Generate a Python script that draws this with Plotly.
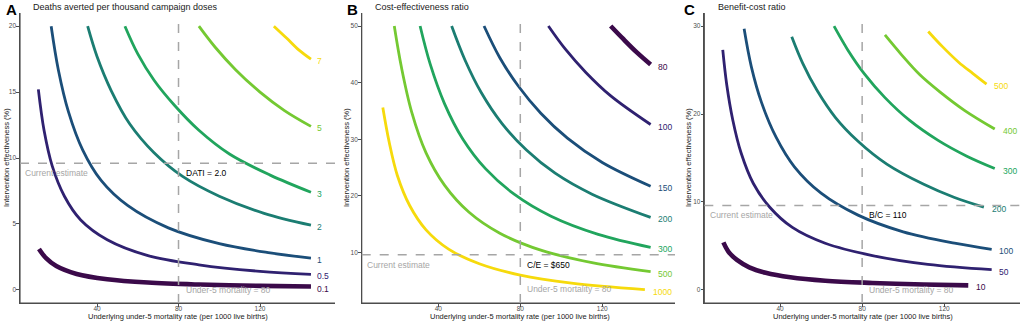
import plotly.graph_objects as go

# ---------------- data ----------------
x_ticks = [40, 80, 120]
current_u5mr = 80
current_eff = 9.6

# Panel A: deaths averted per thousand campaign doses
dati_labels = ["0.1", "0.5", "1", "2", "3", "5", "7"]
dati_x = [
    [11.5, 15, 20, 30, 45, 65, 90, 120, 145],
    [11.2, 14, 18, 24, 32, 45, 65, 90, 120, 145],
    [17.5, 21, 26, 33, 42, 55, 75, 100, 125, 145],
    [35.4, 40, 47, 56, 68, 82, 100, 122, 145],
    [53.7, 60, 68, 78, 90, 105, 125, 145],
    [90, 98, 108, 120, 132, 145],
    [126.8, 133, 139, 145],
]
dati_y = [
    [3.1, 2.4, 1.8, 1.2, 0.8, 0.55, 0.4, 0.3, 0.25],
    [15.2, 12.1, 9.4, 7.1, 5.3, 3.8, 2.6, 1.9, 1.4, 1.17],
    [20, 16.7, 13.5, 10.6, 8.3, 6.4, 4.7, 3.5, 2.8, 2.4],
    [20, 17.7, 15.1, 12.6, 10.4, 8.6, 7.1, 5.8, 4.9],
    [20, 17.9, 15.9, 14.0, 12.1, 10.3, 8.7, 7.4],
    [20, 18.4, 16.7, 15.0, 13.6, 12.4],
    [20, 19.1, 18.2, 17.5],
]

# Panel B: cost-effectiveness ratio
ce_labels = ["80", "100", "150", "200", "300", "500", "1000"]
ce_x = [
    [124.1, 130, 137, 143.6],
    [93.7, 102, 112, 124, 143.6],
    [62.3, 70, 79, 90, 103, 120, 143.6],
    [46.5, 53, 61, 71, 83, 97, 115, 143.6],
    [31.1, 36, 43, 52, 63, 77, 95, 118, 143.6],
    [18.5, 22, 27, 34, 43, 55, 70, 90, 115, 143.6],
    [12.9, 16, 20, 26, 34, 45, 60, 80, 105, 140.8],
]
ce_y = [
    [50, 47.8, 45.3, 43.2],
    [50, 45.9, 41.8, 37.7, 32.6],
    [50, 44.4, 39.4, 34.6, 30.2, 25.9, 21.7],
    [50, 44.0, 38.2, 32.8, 28.1, 24.0, 20.3, 16.2],
    [50, 43.3, 36.3, 30.0, 24.8, 20.3, 16.4, 13.2, 10.9],
    [50, 42.7, 34.8, 27.6, 21.9, 17.1, 13.4, 10.4, 8.2, 6.6],
    [35.6, 29.5, 23.6, 18.3, 14.0, 10.6, 8.0, 6.0, 4.6, 3.45],
]

# Panel C: benefit-cost ratio
bc_labels = ["10", "50", "100", "200", "300", "400", "500"]
bc_x = [
    [12.4, 15, 19, 25, 33, 45, 62, 85, 110, 131.7],
    [12.1, 14, 17, 21, 27, 35, 46, 62, 85, 112, 143.1],
    [22.5, 26, 31, 38, 47, 60, 78, 100, 125, 143.1],
    [45.7, 51, 58, 67, 78, 92, 110, 125, 139.3],
    [66.3, 73, 81, 91, 103, 117, 131, 144.6],
    [91.1, 99, 108, 118, 130, 144.6],
    [112.2, 119, 127, 134, 140.6],
]
bc_y = [
    [5.4, 4.3, 3.4, 2.56, 1.94, 1.42, 1.03, 0.78, 0.6, 0.5],
    [27.3, 23.4, 19.3, 15.6, 12.1, 9.4, 7.1, 5.3, 3.9, 2.9, 2.3],
    [29.7, 25.4, 21.3, 17.4, 14.0, 11.0, 8.5, 6.6, 5.3, 4.6],
    [28.8, 25.8, 22.7, 19.6, 16.9, 14.3, 12.0, 10.5, 9.4],
    [30, 27.3, 24.6, 21.9, 19.3, 17.0, 15.2, 13.8],
    [29, 26.8, 24.5, 22.5, 20.4, 18.3],
    [29.4, 27.7, 25.9, 24.6, 23.4],
]

panel_letters = ["A", "B", "C"]
panel_titles = ["Deaths averted per thousand campaign doses",
                "Cost-effectiveness ratio",
                "Benefit-cost ratio"]
point_labels = ["DATI = 2.0", "C/E = $650", "B/C = 110"]
y_ticks = [[0, 5, 10, 15, 20], [10, 20, 30, 40, 50], [0, 10, 20, 30]]

# ---------------- styling ----------------
W, H = 1021, 322
FONT = "Liberation Sans, Arial, sans-serif"
palette = ["#3b0a4a", "#2f2170", "#1b4e79", "#1b7d72", "#21a55d", "#74c932", "#f6da0c"]
widths = [4.6, 2.8, 2.8, 2.8, 2.8, 2.8, 2.8]
AXIS_COLOR = "#4d4d4d"

panels = [
    dict(xl=20, xr=335, xr_range=[2.2, 156.8], yr=[-1, 21], lab_dx=2.0,
         letter_x=4, title_x=31, ytitle_x=7, xtitle_c=178, u5_y=-0.05),
    dict(xl=361.7, xr=675, xr_range=[2.6, 155.5], yr=[1.07, 52.3], lab_dx=2.8,
         letter_x=345, title_x=373, ytitle_x=347, xtitle_c=520, u5_y=3.5),
    dict(xl=704.3, xr=1020, xr_range=[3.1, 156.9], yr=[-1.5, 31.5], lab_dx=2.8,
         letter_x=682, title_x=716, ytitle_x=689, xtitle_c=863, u5_y=-0.05),
]
plot_top, plot_bottom = 13, 303

xs_all = [dati_x, ce_x, bc_x]
ys_all = [dati_y, ce_y, bc_y]
labs_all = [dati_labels, ce_labels, bc_labels]

fig = go.Figure()
annotations = []
shapes = []
layout_axes = {}

for p in range(3):
    P = panels[p]
    sfx = "" if p == 0 else str(p + 1)
    xa, ya = "x" + sfx, "y" + sfx
    for i in range(7):
        fig.add_trace(go.Scatter(
            x=xs_all[p][i], y=ys_all[p][i], mode="lines",
            line=dict(color=palette[i], width=widths[i], shape="spline", smoothing=1.0),
            xaxis=xa, yaxis=ya, showlegend=False, hoverinfo="skip"))
        annotations.append(dict(
            x=xs_all[p][i][-1] + P["lab_dx"], y=ys_all[p][i][-1], xref=xa, yref=ya,
            text=labs_all[p][i], showarrow=False, xanchor="left", yanchor="middle",
            yshift=-2, font=dict(family=FONT, size=8.5, color=palette[i])))
    axis_common = dict(showgrid=False, zeroline=False, showline=True,
                       linecolor=AXIS_COLOR, linewidth=1.2, ticks="outside",
                       ticklen=2.5, tickwidth=1, tickcolor=AXIS_COLOR,
                       tickfont=dict(family=FONT, size=6.5, color="#4d4d4d"))
    layout_axes["xaxis" + sfx] = dict(
        axis_common, domain=[P["xl"] / W, P["xr"] / W], range=P["xr_range"],
        tickvals=x_ticks, anchor=ya, ticklabelstandoff=-3)
    layout_axes["yaxis" + sfx] = dict(
        axis_common, domain=[(H - plot_bottom) / H, (H - plot_top) / H],
        range=P["yr"], tickvals=y_ticks[p], anchor=xa, ticklabelstandoff=-1)

    # axis lines (left and bottom)
    shapes.append(dict(type="line", xref=xa + " domain", yref=ya + " domain",
                       x0=0, x1=0, y0=0, y1=1, layer="above",
                       line=dict(color=AXIS_COLOR, width=1.2)))
    shapes.append(dict(type="line", xref=xa + " domain", yref=ya + " domain",
                       x0=0, x1=1, y0=0, y1=0, layer="above",
                       line=dict(color=AXIS_COLOR, width=1.2)))

    # reference lines
    shapes.append(dict(type="line", xref=xa + " domain", yref=ya, x0=0, x1=1,
                       y0=current_eff, y1=current_eff,
                       line=dict(color="#a6a6a6", width=1.5, dash="dash")))
    shapes.append(dict(type="line", xref=xa, yref=ya + " domain", x0=current_u5mr,
                       x1=current_u5mr, y0=0, y1=0.985,
                       line=dict(color="#a6a6a6", width=1.5, dash="dash")))

    annotations.append(dict(x=P["xr_range"][0] + 1.6, y=current_eff, xref=xa, yref=ya,
                            text="Current estimate", showarrow=False, xanchor="left",
                            yanchor="top", yshift=-3,
                            font=dict(family=FONT, size=8.5, color="#a6a6a6")))
    annotations.append(dict(x=current_u5mr, y=current_eff, xref=xa, yref=ya,
                            text=point_labels[p], showarrow=False, xanchor="left",
                            yanchor="top", xshift=5, yshift=-3,
                            font=dict(family=FONT, size=8.5, color="#000000")))
    annotations.append(dict(x=current_u5mr, y=P["u5_y"], xref=xa, yref=ya,
                            text="Under-5 mortality = 80", showarrow=False,
                            xanchor="left", yanchor="middle", xshift=5,
                            font=dict(family=FONT, size=8.5, color="#a6a6a6")))
    # panel letter and title
    annotations.append(dict(x=P["letter_x"] / W, y=1 - 9 / H, xref="paper", yref="paper",
                            text="<b>" + panel_letters[p] + "</b>", showarrow=False,
                            xanchor="left", yanchor="middle",
                            font=dict(family=FONT, size=15, color="#000000")))
    annotations.append(dict(x=P["title_x"] / W, y=1 - 7 / H, xref="paper", yref="paper",
                            text=panel_titles[p], showarrow=False,
                            xanchor="left", yanchor="middle",
                            font=dict(family=FONT, size=9, color="#1a1a1a")))
    # axis titles
    annotations.append(dict(x=P["ytitle_x"] / W, y=1 - ((plot_top + plot_bottom) / 2) / H,
                            xref="paper", yref="paper",
                            text="Intervention effectiveness (%)", showarrow=False,
                            textangle=-90, xanchor="center", yanchor="middle",
                            font=dict(family=FONT, size=7.5, color="#1a1a1a")))
    annotations.append(dict(x=P["xtitle_c"] / W, y=1 - 316 / H,
                            xref="paper", yref="paper",
                            text="Underlying under-5 mortality rate (per 1000 live births)",
                            showarrow=False, xanchor="center", yanchor="middle",
                            font=dict(family=FONT, size=7.5, color="#1a1a1a")))

fig.update_layout(
    width=W, height=H, margin=dict(l=0, r=0, t=0, b=0),
    paper_bgcolor="white", plot_bgcolor="white",
    annotations=annotations, shapes=shapes, **layout_axes)

fig.write_html("out.html", config={"displayModeBar": False},
               post_script="document.body.style.margin='0';document.body.style.overflow='hidden';")
